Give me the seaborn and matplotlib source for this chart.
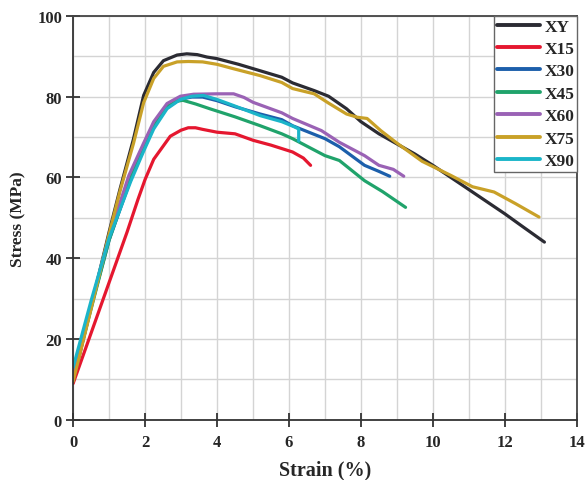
import numpy as np
import pandas as pd
import matplotlib
matplotlib.use("Agg")
import matplotlib.pyplot as plt
import seaborn as sns

series_names = ["XY", "X15", "X30", "X45", "X60", "X75", "X90"]

xy_strain = [0, 0.5, 1, 1.3, 1.68, 1.96, 2.24, 2.51, 2.89, 3.16, 3.45, 3.72, 4.0, 4.6, 5.2, 5.8, 6.1, 6.7, 7.1, 7.6, 8.0, 8.5, 9, 9.5, 10, 10.5, 11, 11.5, 12, 12.5, 13.1]
xy_stress = [9.5, 28, 46.5, 57, 69.6, 80.3, 86, 88.9, 90.3, 90.6, 90.4, 89.8, 89.4, 88, 86.4, 84.8, 83.4, 81.5, 80.1, 77, 73.8, 70.8, 68.3, 65.8, 63, 60, 57, 54, 51, 47.8, 44]

x15_strain = [0, 0.5, 1, 1.5, 1.8, 2.0, 2.24, 2.7, 3.0, 3.2, 3.4, 3.6, 4, 4.5, 5, 5.5, 6.1, 6.4, 6.6]
x15_stress = [9, 21.5, 34, 46.5, 54.5, 59.5, 64.5, 70.2, 71.7, 72.3, 72.3, 71.9, 71.2, 70.8, 69.2, 68, 66.3, 64.8, 63]

x30_strain = [0, 0.5, 1, 1.6, 1.96, 2.24, 2.61, 2.98, 3.3, 3.6, 4.0, 4.5, 5.2, 5.8, 6.1, 7.0, 7.4, 8.1, 8.5, 8.8]
x30_stress = [11.5, 28, 44.5, 59.5, 67, 72.5, 77.3, 79.4, 79.9, 79.9, 79.0, 77.5, 75.7, 74.3, 72.8, 69.6, 67.6, 63, 61.5, 60.3]

x45_strain = [0, 0.5, 1, 1.6, 1.96, 2.24, 2.61, 2.85, 3.05, 3.4, 3.8, 4.5, 5.2, 5.8, 6.1, 7.0, 7.4, 8.1, 8.6, 9.24]
x45_stress = [10.5, 27.5, 44.5, 60, 67.5, 73, 77.5, 78.8, 79.1, 78.2, 77, 75, 72.8, 70.8, 69.6, 65.4, 64.2, 59.2, 56.5, 52.6]

x60_strain = [0, 0.5, 1, 1.55, 1.96, 2.24, 2.61, 2.98, 3.35, 4.0, 4.46, 4.75, 5.0, 5.8, 6.1, 6.9, 7.4, 8.1, 8.5, 8.9, 9.19]
x60_stress = [11, 28.5, 45.5, 60.5, 68.5, 73.8, 78.3, 80.1, 80.6, 80.7, 80.7, 79.8, 78.6, 76, 74.6, 71.6, 68.7, 65.4, 63, 62, 60.3]

x75_strain = [0, 0.5, 1, 1.3, 1.68, 1.96, 2.24, 2.51, 2.89, 3.2, 3.6, 4.0, 4.46, 5.2, 5.8, 6.1, 6.7, 7.1, 7.6, 7.9, 8.17, 8.55, 9.0, 9.7, 10.5, 11.1, 11.7, 12.3, 12.95]
x75_stress = [9.5, 27.5, 46, 56.5, 68.5, 78.5, 84.5, 87.5, 88.6, 88.7, 88.6, 88.0, 86.9, 85.2, 83.5, 82, 80.7, 78.4, 75.7, 74.9, 74.6, 71.6, 68.5, 64, 60.5, 57.7, 56.4, 53.5, 50.2]

x90_strain = [0, 0.5, 1, 1.6, 1.96, 2.24, 2.61, 2.98, 3.3, 3.62, 4.0, 4.46, 5.2, 5.8, 6.13, 6.27, 6.27]
x90_stress = [13, 29.5, 45, 59, 66.5, 72, 77, 79.3, 80.1, 80.3, 79.3, 77.8, 75.3, 73.8, 72.6, 72.0, 69.0]

strains = [xy_strain, x15_strain, x30_strain, x45_strain, x60_strain, x75_strain, x90_strain]
stresses = [xy_stress, x15_stress, x30_stress, x45_stress, x60_stress, x75_stress, x90_stress]

colors = ["#2b2b33", "#e5172f", "#1c5fab", "#20a36b", "#9a62b5", "#c9a128", "#1bb5c9"]

x_ticks = [0, 2, 4, 6, 8, 10, 12, 14]
y_ticks = [0, 20, 40, 60, 80, 100]

rows = []
for name, xs, ys in zip(series_names, strains, stresses):
    for i, (a, b) in enumerate(zip(xs, ys)):
        rows.append({"Specimen": name, "Strain": a, "Stress": b, "order": i})
df = pd.DataFrame(rows)

sns.set_theme(style="white")
plt.rcParams["font.family"] = ["Liberation Serif", "DejaVu Serif"]
plt.rcParams["font.weight"] = "bold"

fig = plt.figure(figsize=(5.85, 4.81), dpi=100)
ax = fig.add_axes([0.125, 0.125, 0.861, 0.840])

sns.lineplot(data=df, x="Strain", y="Stress", hue="Specimen", hue_order=series_names,
             palette=colors, sort=False, estimator=None, units="Specimen",
             linewidth=2.3, ax=ax, legend=True)
for ln in ax.get_lines():
    ln.set_solid_joinstyle("round")
    ln.set_solid_capstyle("round")

ax.set_xlim(0, 14)
ax.set_ylim(0, 100)
ax.set_xticks(x_ticks)
ax.set_yticks(y_ticks)
ax.set_xticks(np.arange(0, 15, 1), minor=True)
ax.set_yticks(np.arange(0, 101, 10), minor=True)
ax.grid(which="both", color="#d4d4d4", linewidth=1.0)
ax.set_axisbelow(True)
ax.tick_params(axis="both", which="major", direction="inout", length=10, width=1.3,
               color="#333333", labelsize=12, bottom=True, left=True)
ax.tick_params(axis="x", which="major", pad=5)
ax.tick_params(axis="y", which="major", pad=3)
ax.tick_params(axis="both", which="minor", length=0)
for lab in ax.get_xticklabels() + ax.get_yticklabels():
    lab.set_fontweight("bold")
for sp in ax.spines.values():
    sp.set_color("#444444")
    sp.set_linewidth(1.3)
ax.spines["left"].set_color("#333333")
ax.spines["bottom"].set_color("#333333")

ax.set_xlabel("Strain (%)", fontsize=14.5, fontweight="bold", labelpad=7)
ax.set_ylabel("Stress (MPa)", fontsize=12.5, fontweight="bold", labelpad=8)

leg = ax.legend(loc="upper right", frameon=True, fancybox=False, fontsize=12.5,
                handlelength=2.5, handletextpad=0.25, borderpad=0.15, labelspacing=0.36,
                borderaxespad=0.0, edgecolor="#666666", framealpha=1.0)
leg.get_frame().set_linewidth(1.0)
for t in leg.get_texts():
    t.set_fontweight("bold")
for h in leg.get_lines():
    h.set_linewidth(2.8)

fig.savefig("out.png", dpi=100)
